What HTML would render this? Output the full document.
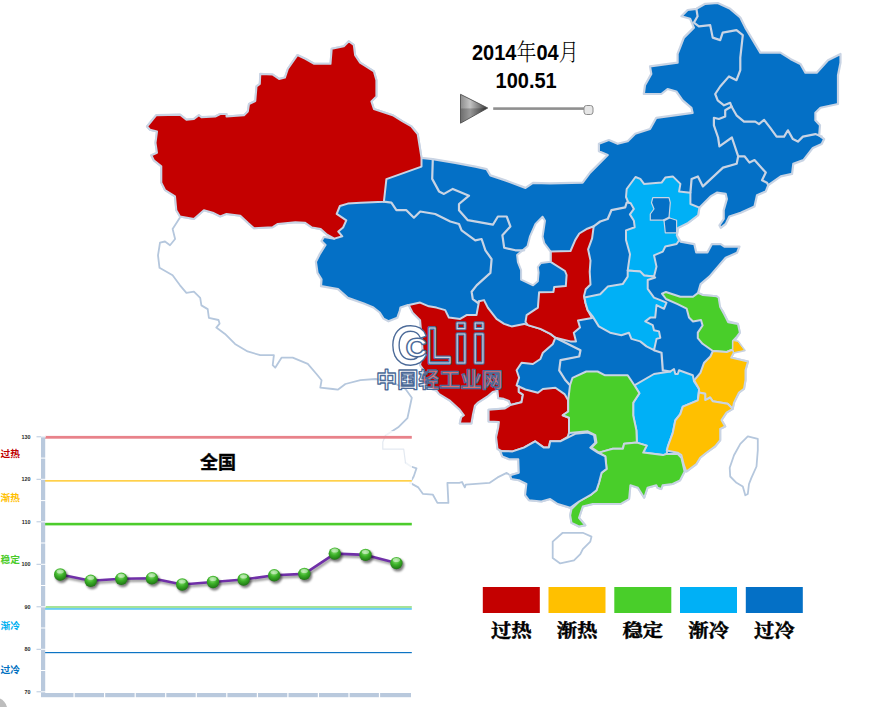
<!DOCTYPE html>
<html lang="zh"><head><meta charset="utf-8"><title>CLii 中国轻工业网 - 全国 2014年04月 100.51</title>
<style>
html,body{margin:0;padding:0;background:#fff;}
body{width:878px;height:707px;overflow:hidden;position:relative;font-family:"Liberation Sans","Noto Sans CJK SC",sans-serif;}
svg{position:absolute;left:0;top:0;display:block;}
</style></head><body>
<svg width="878" height="707" viewBox="0 0 878 707">
<defs>
<radialGradient id="ball" cx="0.45" cy="0.3" r="0.75"><stop offset="0" stop-color="#93e27e"/><stop offset="0.45" stop-color="#3db329"/><stop offset="1" stop-color="#1a6c11"/></radialGradient>
<linearGradient id="play" x1="0" y1="0" x2="1" y2="0"><stop offset="0" stop-color="#8c8c8c"/><stop offset="0.35" stop-color="#c4c4c4"/><stop offset="0.7" stop-color="#7a7a7a"/><stop offset="1" stop-color="#2c2c2c"/></linearGradient>
<filter id="blur1" x="-30%" y="-30%" width="160%" height="160%"><feGaussianBlur stdDeviation="0.9"/></filter>
</defs>
<rect width="878" height="707" fill="#fff"/>
<g id="map">
<path d="M180.0,217.5 L172.6,228.9 L175.1,239.0 L170.0,245.2 L165.0,241.5 L160.0,242.7 L158.0,255.3 L159.5,267.8 L172.6,275.3 L180.0,285.3 L186.4,292.9 L193.9,291.6 L200.2,297.9 L201.4,305.4 L207.7,309.1 L208.9,317.9 L218.5,320.0 L219.6,323.6 L216.3,327.6 L225.0,333.9 L235.0,343.9 L247.6,351.4 L260.2,355.2 L273.9,355.2 L272.7,365.2 L275.2,367.7 L281.5,357.7 L292.7,357.7 L307.8,363.9 L316.5,374.0 L321.6,380.2 L320.3,387.7 L332.8,389.0 L337.8,389.7 L345.4,384.0 L360.4,380.2 L375.4,379.0 L390.0,381.0 L405.5,389.0 L405.5,389.0 L411.8,397.8 L409.2,410.0 L407.4,418.2 L398.2,427.3 L385.5,435.5" fill="none" stroke="#b5c7dd" stroke-width="1.8" stroke-linejoin="round" stroke-linecap="round" />
<path d="M405.5,462.8 L411.0,466.5 L416.5,468.3 L413.7,476.5 L410.1,482.9 L418.3,487.4 L422.8,493.8 L432.9,494.7 L437.4,502.9 L448.4,502.9 L447.4,482.9 L459.3,482.9 L462.0,482.0 L464.8,487.4 L465.7,484.7 L489.4,482.9 L497.6,477.4 L506.7,472.9 L510.1,475.2" fill="none" stroke="#b5c7dd" stroke-width="1.8" stroke-linejoin="round" stroke-linecap="round" />
<path d="M562.7,532.8 L582.8,532.8 L591.5,536.6 L590.3,541.6 L582.8,549.1 L580.3,554.1 L574.0,560.4 L560.2,563.4 L552.7,557.9 L552.7,541.6Z" fill="#fff" stroke="#b5c7dd" stroke-width="1.8" stroke-linejoin="round"/>
<path d="M747.8,436.4 L757.8,438.9 L757.8,450.2 L756.5,466.5 L751.5,477.7 L749.0,484.0 L747.8,494.0 L745.3,495.3 L742.8,486.5 L736.5,482.8 L730.2,476.5 L729.7,467.7 L734.0,455.2 L740.3,443.9Z" fill="#fff" stroke="#b5c7dd" stroke-width="1.8" stroke-linejoin="round"/>
<path d="M147.0,126.5 L156.3,115.2 L180.1,114.7 L186.4,119.7 L193.9,119.0 L198.9,115.2 L201.4,117.2 L215.2,116.5 L220.2,114.0 L226.5,114.0 L226.5,116.5 L244.0,115.2 L247.8,111.5 L249.0,104.0 L255.3,101.0 L256.5,86.4 L259.8,83.9 L260.3,73.9 L272.8,74.6 L279.1,78.9 L284.9,77.6 L287.9,68.8 L297.4,55.1 L305.4,58.8 L314.2,63.8 L330.5,63.8 L331.7,48.8 L343.8,46.3 L348.8,41.3 L353.8,45.0 L355.1,55.1 L360.1,62.6 L373.9,71.4 L376.4,80.1 L376.4,96.4 L371.4,101.4 L373.9,109.0 L392.7,115.2 L402.7,121.5 L411.5,126.5 L417.7,134.0 L421.5,157.8 L432.8,159.1 L455.3,162.8 L475.4,166.6 L486.6,169.1 L490.4,175.4 L505.4,180.4 L525.5,187.9 L533.0,182.9 L550.0,183.4 L582.6,182.6 L590.1,172.6 L607.7,155.0 L598.9,151.3 L598.9,143.8 L608.9,140.0 L617.7,143.8 L627.7,141.3 L635.2,133.8 L650.0,129.0 L656.3,117.8 L692.6,112.8 L691.4,107.8 L682.6,100.3 L676.3,91.5 L667.6,89.0 L661.3,94.0 L643.8,94.0 L645.0,85.2 L651.3,73.9 L650.0,66.4 L677.6,62.7 L677.6,53.9 L683.9,37.6 L693.9,27.6 L690.1,18.8 L681.4,16.3 L687.6,10.0 L696.4,8.8 L705.2,3.8 L717.7,3.0 L730.2,8.8 L740.3,17.5 L745.3,27.6 L752.8,40.1 L760.3,52.6 L780.4,52.6 L790.4,58.9 L800.4,63.9 L805.4,72.7 L816.7,72.7 L828.0,60.2 L840.5,53.9 L840.5,62.7 L838.0,75.2 L838.0,104.0 L820.5,107.8 L815.4,112.8 L815.4,120.3 L820.0,125.3 L819.2,135.3 L824.2,139.1 L821.7,144.1 L812.9,147.9 L803.4,160.1 L793.3,163.9 L792.1,173.9 L780.8,176.4 L768.3,185.2 L765.8,191.4 L757.0,195.2 L754.5,206.5 L740.7,212.7 L729.4,216.5 L725.7,224.0 L720.7,227.8 L719.4,225.3 L723.7,219.0 L723.7,210.2 L726.9,198.9 L725.7,193.9 L716.9,192.7 L710.6,196.4 L699.4,207.7 L698.1,215.2 L688.1,222.8 L678.1,227.8 L676.8,235.3 L680.6,241.6 L694.3,244.1 L696.2,252.3 L707.5,252.3 L711.9,244.1 L720.7,244.1 L724.4,246.6 L739.5,246.6 L737.0,252.8 L725.7,257.8 L716.9,267.9 L709.4,276.6 L700.6,284.2 L698.1,292.9 L702.9,295.1 L716.6,296.3 L717.9,305.1 L722.9,311.4 L727.9,321.4 L737.9,323.9 L739.9,332.7 L734.2,341.4 L737.9,341.4 L744.6,350.4 L733.8,352.6 L731.2,357.6 L748.0,361.5 L745.5,370.3 L745.5,380.0 L744.0,388.8 L739.0,392.5 L734.0,402.6 L732.7,408.8 L726.5,412.6 L721.5,420.1 L725.2,426.4 L720.2,428.9 L720.2,440.2 L715.2,446.4 L706.4,452.7 L700.2,457.7 L696.4,464.0 L686.4,471.5 L684.6,471.5 L680.1,480.3 L672.6,484.0 L662.6,485.3 L661.3,489.0 L657.5,487.8 L656.3,485.3 L647.5,487.8 L644.2,497.7 L637.9,487.7 L630.4,485.2 L629.1,499.0 L620.4,504.0 L592.8,504.0 L582.8,506.5 L579.0,517.8 L585.3,525.3 L579.0,526.5 L571.5,522.8 L570.2,515.3 L571.5,509.0 L570.2,507.7 L557.7,504.0 L550.2,499.0 L541.4,501.5 L528.9,500.2 L525.1,495.2 L526.4,483.9 L518.8,480.2 L511.3,478.9 L510.1,475.2 L518.8,472.7 L518.3,459.2 L509.2,459.2 L502.3,456.4 L500.2,451.0 L497.5,448.9 L496.1,437.2 L498.2,427.6 L498.9,422.1 L488.6,421.4 L488.6,409.8 L505.0,408.4 L510.5,405.0 L509.0,401.0 L503.7,398.8 L498.2,398.1 L497.5,390.6 L492.7,391.9 L487.2,396.7 L477.6,402.9 L474.9,405.7 L472.8,415.3 L471.4,423.5 L459.8,423.5 L461.2,417.3 L463.9,415.3 L459.8,409.8 L450.2,400.9 L439.2,394.0 L436.5,390.6 L426.4,387.2 L421.4,381.5 L423.9,370.3 L420.1,365.2 L422.6,350.2 L421.4,335.2 L420.1,320.1 L412.6,312.6 L408.8,305.1 L408.0,305.0 L400.5,307.5 L399.7,311.0 L397.3,317.8 L388.5,321.3 L383.5,318.6 L379.7,312.5 L373.4,307.5 L363.8,303.5 L347.8,297.9 L338.0,289.1 L321.0,286.2 L321.5,279.3 L317.5,272.9 L315.9,261.8 L319.9,253.8 L325.5,245.0 L321.5,241.0 L323.9,237.0 L334.3,238.6 L327.1,234.7 L320.7,229.1 L312.0,227.5 L304.8,222.7 L295.4,222.2 L277.8,223.9 L272.8,227.2 L254.0,228.2 L247.8,222.7 L240.3,215.7 L226.5,213.9 L220.2,216.4 L212.7,212.7 L203.9,210.2 L193.9,218.9 L180.0,216.4 L176.3,210.2 L175.0,196.4 L165.0,190.0 L161.3,182.6 L161.3,166.3 L153.8,160.3 L151.3,155.3 L157.0,152.8 L155.5,142.8 L157.0,131.5 L150.0,129.7Z" fill="#0470C6" stroke="#c9d4e4" stroke-width="2.2" stroke-linejoin="round"/>
<path d="M147.0,126.5 L156.3,115.2 L180.1,114.7 L186.4,119.7 L193.9,119.0 L198.9,115.2 L201.4,117.2 L215.2,116.5 L220.2,114.0 L226.5,114.0 L226.5,116.5 L244.0,115.2 L247.8,111.5 L249.0,104.0 L255.3,101.0 L256.5,86.4 L259.8,83.9 L260.3,73.9 L272.8,74.6 L279.1,78.9 L284.9,77.6 L287.9,68.8 L297.4,55.1 L305.4,58.8 L314.2,63.8 L330.5,63.8 L331.7,48.8 L343.8,46.3 L348.8,41.3 L353.8,45.0 L355.1,55.1 L360.1,62.6 L373.9,71.4 L376.4,80.1 L376.4,96.4 L371.4,101.4 L373.9,109.0 L392.7,115.2 L402.7,121.5 L411.5,126.5 L417.7,134.0 L421.5,157.8 L421.5,166.6 L386.4,179.1 L383.9,201.7 L360.6,202.8 L347.8,203.6 L339.9,206.0 L336.7,213.9 L346.3,220.3 L343.1,227.5 L338.3,231.5 L342.3,236.3 L334.3,238.6 L327.1,234.7 L320.7,229.1 L312.0,227.5 L304.8,222.7 L295.4,222.2 L277.8,223.9 L272.8,227.2 L254.0,228.2 L247.8,222.7 L240.3,215.7 L226.5,213.9 L220.2,216.4 L212.7,212.7 L203.9,210.2 L193.9,218.9 L180.0,216.4 L176.3,210.2 L175.0,196.4 L165.0,190.0 L161.3,182.6 L161.3,166.3 L153.8,160.3 L151.3,155.3 L157.0,152.8 L155.5,142.8 L157.0,131.5 L150.0,129.7Z" fill="#C40000" stroke="#c9d4e4" stroke-width="2.0" stroke-linejoin="round"/>
<path d="M408.8,305.1 L420.1,302.6 L428.9,306.3 L436.4,307.6 L445.2,310.1 L448.9,317.6 L460.2,318.9 L466.5,315.1 L476.5,315.1 L479.0,301.3 L484.0,300.1 L487.8,307.6 L496.5,318.9 L504.1,323.9 L511.6,326.4 L524.1,323.9 L527.9,325.1 L540.4,328.9 L550.4,333.9 L555.4,337.7 L552.9,343.9 L542.9,352.7 L540.4,359.0 L532.9,364.0 L521.6,362.7 L516.6,370.3 L519.1,377.8 L516.6,385.3 L518.8,386.5 L518.8,391.9 L522.9,394.7 L521.5,402.2 L510.5,405.0 L509.0,401.0 L503.7,398.8 L498.2,398.1 L497.5,390.6 L492.7,391.9 L487.2,396.7 L477.6,402.9 L474.9,405.7 L472.8,415.3 L471.4,423.5 L459.8,423.5 L461.2,417.3 L463.9,415.3 L459.8,409.8 L450.2,400.9 L439.2,394.0 L436.5,390.6 L426.4,387.2 L421.4,381.5 L423.9,370.3 L420.1,365.2 L422.6,350.2 L421.4,335.2 L420.1,320.1 L412.6,312.6 L408.8,305.1Z" fill="#C40000" stroke="#c9d4e4" stroke-width="2.0" stroke-linejoin="round"/>
<path d="M593.7,226.3 L592.1,238.3 L588.1,249.4 L590.5,260.6 L589.7,271.8 L590.5,284.5 L585.7,289.3 L584.0,296.0 L585.5,303.0 L587.6,310.0 L592.0,318.0 L578.0,320.5 L580.0,327.6 L573.8,332.7 L576.0,341.5 L570.5,341.4 L555.4,337.7 L550.4,333.9 L540.4,328.9 L527.9,325.1 L525.5,322.0 L526.6,315.1 L537.9,307.6 L539.1,292.2 L553.4,292.0 L554.2,287.0 L565.8,286.1 L566.6,275.0 L565.0,271.0 L550.6,261.8 L550.6,251.6 L570.5,251.0 L575.3,239.9 L579.3,233.5 L587.3,228.7Z" fill="#C40000" stroke="#c9d4e4" stroke-width="2.0" stroke-linejoin="round"/>
<path d="M488.6,409.8 L505.0,408.4 L510.5,405.0 L521.5,402.2 L522.9,394.7 L518.8,391.9 L518.8,386.5 L525.4,389.5 L537.9,392.8 L542.9,389.0 L555.4,387.8 L564.5,394.1 L568.2,400.3 L568.2,411.5 L562.7,415.3 L569.0,417.8 L569.0,432.9 L567.7,436.8 L560.2,441.3 L550.2,441.3 L548.9,447.6 L543.9,447.6 L535.1,441.3 L523.9,447.6 L512.6,451.4 L502.6,451.6 L497.5,448.9 L496.1,437.2 L498.2,427.6 L498.9,422.1 L488.6,421.4Z" fill="#C40000" stroke="#c9d4e4" stroke-width="2.0" stroke-linejoin="round"/>
<path d="M635.5,177.0 L626.7,189.0 L626.0,197.0 L628.3,202.5 L630.7,203.3 L633.9,208.9 L629.9,214.4 L633.9,220.8 L634.7,227.2 L626.0,230.4 L626.0,240.0 L630.0,254.3 L627.7,270.4 L640.3,271.6 L644.0,275.4 L654.0,276.6 L656.5,266.6 L654.0,255.3 L662.8,251.6 L665.3,246.5 L676.6,244.0 L679.1,240.3 L676.8,235.3 L678.1,227.8 L688.1,222.8 L698.1,215.2 L699.4,207.7 L690.4,204.0 L690.4,192.7 L679.1,191.4 L680.4,183.9 L672.8,176.4 L665.3,177.6 L661.6,182.6 L644.0,183.9 L640.3,178.9Z" fill="#00B0F6" stroke="#c9d4e4" stroke-width="2.0" stroke-linejoin="round"/>
<path d="M652.8,197.7 L669.0,197.7 L670.3,202.7 L669.0,217.7 L676.6,220.2 L676.6,232.8 L665.3,232.8 L664.0,220.2 L650.3,220.2 L650.3,214.0 L654.0,209.0 L651.5,202.7Z" fill="#0470C6" stroke="#c9d4e4" stroke-width="1.2" stroke-linejoin="round"/>
<path d="M627.7,270.4 L627.7,276.6 L622.7,284.1 L607.7,286.6 L600.2,294.2 L584.5,297.5 L585.5,303.0 L587.6,310.0 L592.6,316.4 L598.8,326.4 L610.1,332.7 L621.4,335.2 L628.9,332.7 L631.4,338.9 L640.2,341.4 L646.5,346.4 L654.0,350.2 L656.5,338.9 L660.3,337.7 L659.0,331.4 L654.0,330.2 L652.7,325.1 L645.2,321.4 L650.2,317.6 L655.2,317.6 L656.5,305.1 L664.0,308.8 L666.5,302.6 L660.3,300.1 L654.0,297.6 L647.7,288.8 L647.7,280.0 L655.2,277.5 L654.0,276.6 L644.0,275.4 L640.3,271.6Z" fill="#00B0F6" stroke="#c9d4e4" stroke-width="2.0" stroke-linejoin="round"/>
<path d="M634.4,385.3 L654.0,374.0 L670.3,371.5 L674.0,369.0 L675.3,374.0 L677.8,374.0 L679.0,370.3 L692.8,375.3 L694.1,381.5 L699.1,389.0 L697.8,400.3 L682.8,406.6 L680.3,414.1 L675.3,420.4 L672.8,432.9 L668.0,446.0 L666.7,453.9 L663.0,455.1 L643.2,452.6 L646.7,445.6 L636.9,442.6 L636.4,430.4 L633.2,415.4 L633.2,402.8 L639.4,393.3Z" fill="#00B0F6" stroke="#c9d4e4" stroke-width="2.0" stroke-linejoin="round"/>
<path d="M662.0,293.6 L665.9,292.0 L680.3,296.7 L693.0,296.7 L698.1,292.9 L702.9,295.1 L716.6,296.3 L718.6,297.5 L720.2,307.1 L724.2,314.3 L728.2,322.3 L737.9,323.9 L739.9,332.7 L736.9,336.6 L732.9,341.0 L732.9,349.5 L726.7,352.0 L712.9,351.0 L702.6,343.8 L697.8,338.2 L697.8,332.6 L702.6,325.5 L701.0,319.9 L693.0,321.5 L689.0,317.5 L686.7,308.7 L677.1,303.9 L666.0,299.0Z" fill="#49CE2A" stroke="#c9d4e4" stroke-width="2.0" stroke-linejoin="round"/>
<path d="M586.3,371.5 L572.5,377.8 L570.0,385.3 L568.2,400.3 L568.2,411.5 L562.7,415.3 L569.0,417.8 L569.0,432.9 L587.8,431.3 L595.3,435.1 L596.5,442.6 L591.5,447.6 L599.0,452.6 L607.8,450.1 L612.8,448.8 L622.9,448.8 L624.1,443.8 L636.9,442.6 L636.4,430.4 L633.2,415.4 L633.2,402.8 L639.4,393.3 L634.4,385.3 L627.7,375.3 L605.1,375.3 L597.6,371.5Z" fill="#49CE2A" stroke="#c9d4e4" stroke-width="2.0" stroke-linejoin="round"/>
<path d="M606.6,468.9 L605.3,456.4 L599.0,452.6 L607.8,450.1 L612.8,448.8 L622.9,448.8 L624.1,443.8 L636.9,442.6 L646.7,445.6 L643.2,452.6 L663.0,455.1 L666.7,453.9 L677.6,453.9 L681.4,457.7 L684.6,471.5 L680.1,480.3 L672.6,484.0 L662.6,485.3 L661.3,489.0 L657.5,487.8 L656.3,485.3 L647.5,487.8 L644.2,497.7 L637.9,487.7 L630.4,485.2 L629.1,499.0 L620.4,504.0 L592.8,504.0 L582.8,506.5 L579.0,517.8 L585.3,525.3 L579.0,526.5 L571.5,522.8 L570.2,515.3 L571.5,509.0 L579.0,501.5 L590.3,495.2 L596.5,490.2 L599.0,482.7 L601.6,472.7Z" fill="#49CE2A" stroke="#c9d4e4" stroke-width="2.0" stroke-linejoin="round"/>
<path d="M500.2,451.0 L512.6,451.4 L523.9,447.6 L535.1,441.3 L543.9,447.6 L548.9,447.6 L550.2,441.3 L560.2,441.3 L567.7,437.6 L575.2,433.8 L587.8,432.6 L594.0,435.1 L595.3,442.6 L590.3,447.6 L597.8,452.6 L605.3,456.4 L606.6,468.9 L601.6,472.7 L599.0,482.7 L596.5,490.2 L590.3,495.2 L579.0,501.5 L570.2,507.7 L557.7,504.0 L550.2,499.0 L541.4,501.5 L528.9,500.2 L525.1,495.2 L526.4,483.9 L518.8,480.2 L511.3,478.9 L510.1,475.2 L518.8,472.7 L518.3,459.2 L509.2,459.2 L502.3,456.4 L500.2,451.0Z" fill="#0470C6" stroke="#c9d4e4" stroke-width="2.0" stroke-linejoin="round"/>
<path d="M712.9,351.0 L726.7,352.0 L732.9,349.5 L733.8,352.6 L731.2,357.6 L748.0,361.5 L745.5,370.3 L745.5,380.0 L744.0,388.8 L739.0,392.5 L734.0,402.6 L732.7,408.8 L727.7,403.8 L720.2,402.6 L712.7,401.3 L710.2,397.5 L705.2,400.1 L705.2,393.8 L698.9,392.5 L699.1,389.0 L694.1,380.3 L700.4,372.8 L704.1,362.7 L710.4,356.5Z" fill="#FFC000" stroke="#c9d4e4" stroke-width="2.0" stroke-linejoin="round"/>
<path d="M733.0,340.6 L737.9,341.4 L744.6,350.4 L733.8,352.6 L732.9,349.5Z" fill="#FFC000" stroke="#c9d4e4" stroke-width="1.0" stroke-linejoin="round"/>
<path d="M698.9,392.5 L705.2,393.8 L705.2,400.1 L710.2,397.5 L712.7,401.3 L720.2,402.6 L727.7,403.8 L732.7,408.8 L726.5,412.6 L721.5,420.1 L725.2,426.4 L720.2,428.9 L720.2,440.2 L715.2,446.4 L706.4,452.7 L700.2,457.7 L696.4,464.0 L686.4,471.5 L683.9,465.2 L681.4,455.2 L677.6,452.7 L666.7,450.5 L668.0,446.0 L672.8,432.9 L675.3,420.4 L680.3,414.1 L682.8,406.6 L697.8,400.3Z" fill="#FFC000" stroke="#c9d4e4" stroke-width="2.0" stroke-linejoin="round"/>
<path d="M542.6,216.7 L535.5,223.9 L529.9,236.7 L527.5,246.3 L517.1,255.0 L517.9,262.2 L521.1,270.2 L521.1,279.7 L533.1,285.3 L537.8,281.3 L538.6,272.6 L537.8,267.0 L541.0,263.0 L550.6,261.8 L550.6,251.6 L544.2,243.1 L542.6,236.7 L545.0,220.7Z" fill="#fff" stroke="#c9d4e4" stroke-width="2.0" stroke-linejoin="round"/>
<path d="M432.8,159.1 L432.2,178.9 L439.0,191.4 L444.0,193.9 L452.8,188.9 L469.0,195.7 L459.0,204.0 L459.0,210.2 L467.8,220.2 L492.9,224.7 L497.9,216.5 L506.7,216.5 L510.4,226.5 L502.4,235.3 L504.2,247.8 L515.4,250.3 L524.2,250.3" fill="none" stroke="#c9d4e4" stroke-width="2.2" stroke-linejoin="round" stroke-linecap="round" />
<path d="M383.9,201.7 L391.4,202.7 L396.4,210.2 L406.4,210.2 L413.9,217.7 L420.2,211.5 L435.2,214.0 L450.3,221.5 L459.0,224.0 L461.6,230.3 L475.3,240.3 L481.6,239.0 L485.4,250.3 L491.6,259.1 L490.4,272.9 L476.6,285.4 L471.6,291.7 L472.8,299.2 L477.8,302.9 L479.0,301.3" fill="none" stroke="#c9d4e4" stroke-width="2.2" stroke-linejoin="round" stroke-linecap="round" />
<path d="M593.7,226.3 L600.2,221.5 L607.7,219.0 L611.4,210.2 L625.2,207.3 L626.7,202.5 L628.3,202.5" fill="none" stroke="#c9d4e4" stroke-width="2.2" stroke-linejoin="round" stroke-linecap="round" />
<path d="M690.4,192.7 L691.6,178.9 L697.9,176.4 L702.9,186.4 L723.0,167.6 L736.7,163.8 L738.2,156.3" fill="none" stroke="#c9d4e4" stroke-width="2.2" stroke-linejoin="round" stroke-linecap="round" />
<path d="M738.2,156.3 L731.9,137.5 L719.4,146.3 L718.1,137.5 L713.9,125.3 L713.9,117.8 L718.9,119.0 L725.2,116.5 L725.2,110.3 L731.5,106.5" fill="none" stroke="#c9d4e4" stroke-width="2.2" stroke-linejoin="round" stroke-linecap="round" />
<path d="M738.2,156.3 L744.5,156.3 L749.5,162.6 L754.5,160.1 L765.8,172.6 L762.0,180.2 L767.0,182.7 L768.3,185.2" fill="none" stroke="#c9d4e4" stroke-width="2.2" stroke-linejoin="round" stroke-linecap="round" />
<path d="M731.5,106.5 L736.5,115.3 L744.0,121.6 L755.3,121.6 L759.0,124.1 L764.1,119.8 L770.3,127.8 L776.6,136.6 L784.1,136.6 L787.9,130.3 L792.9,139.1 L797.9,141.6 L802.9,136.6 L815.4,134.1 L821.7,136.6" fill="none" stroke="#c9d4e4" stroke-width="2.2" stroke-linejoin="round" stroke-linecap="round" />
<path d="M696.4,8.8 L697.6,16.3 L693.9,22.6 L698.9,26.3 L710.2,25.1 L712.7,37.6 L720.2,40.1 L722.7,32.6 L736.5,30.1 L742.8,35.1 L740.3,57.6 L740.3,70.2 L736.5,80.2 L729.0,76.4 L720.2,86.5 L715.2,94.0 L717.7,100.3 L724.0,105.3 L730.2,102.8 L731.5,106.5" fill="none" stroke="#c9d4e4" stroke-width="2.2" stroke-linejoin="round" stroke-linecap="round" />
<path d="M555.4,337.7 L565.5,342.7 L580.5,350.2 L579.2,356.5 L560.5,360.2 L559.2,370.3 L565.5,380.3 L570.0,385.3" fill="none" stroke="#c9d4e4" stroke-width="2.2" stroke-linejoin="round" stroke-linecap="round" />
<path d="M654.0,350.2 L661.5,352.7 L662.8,370.3 L670.3,371.5" fill="none" stroke="#c9d4e4" stroke-width="2.2" stroke-linejoin="round" stroke-linecap="round" />
<path d="M664.0,220.2 L669.0,217.7" fill="none" stroke="#c9d4e4" stroke-width="2.2" stroke-linejoin="round" stroke-linecap="round" />
</g>
<g id="watermark" stroke-linejoin="round"><title>CLii 中国轻工业网</title>
<g font-family="Liberation Sans,sans-serif">
<g transform="translate(390.96,363.8) scale(0.935,1)">
<text x="0" y="0" font-size="54.2" fill="#4b6a98" stroke="#4b6a98" stroke-width="3.0">C</text>
<text x="0" y="0" font-size="54.2" fill="#ffffff" aria-hidden="true">C</text>
</g>
<g transform="translate(406.2,356.2) scale(1.14,1)">
<text x="0" y="0" font-size="24.3" fill="#4b6a98" stroke="#4b6a98" stroke-width="2.9" aria-hidden="true">C</text>
<text x="0" y="0" font-size="24.3" fill="#ffffff" aria-hidden="true">C</text>
</g>
<g font-weight="bold" fill="none">
<g transform="translate(426.56,362.7) scale(0.8,1)">
<text x="0" y="0" font-size="50.5" stroke="#4b6a98" stroke-width="3.8">L</text>
<text x="0" y="0" font-size="50.5" stroke="#ffffff" stroke-opacity="0.7" stroke-width="1.2" aria-hidden="true">L</text>
</g>
<text x="453.26 471.16" y="362.8" font-size="56.4" stroke="#4b6a98" stroke-width="3.4">ii</text>
<text x="453.26 471.16" y="362.8" font-size="56.4" stroke="#ffffff" stroke-opacity="0.7" stroke-width="1.1" aria-hidden="true">ii</text>
</g>
</g>
<text x="376" y="387.3" font-size="21" font-weight="bold" textLength="127" lengthAdjust="spacingAndGlyphs" fill="#ffffff" fill-opacity="0.45" stroke="#4b6a98" stroke-width="1.3" font-family="Liberation Sans,'Noto Sans CJK SC',sans-serif">中国轻工业网</text>
</g>
<g id="chart">
<rect x="0" y="431" width="412" height="276" fill="#fff" fill-opacity="0.8"/>
<path d="M385.5,435.5 L382.8,441.9 L382.8,449.2 L403.7,449.2 L405.5,462.8" fill="none" stroke="#e3e9f1" stroke-width="1.2" stroke-linejoin="round" stroke-linecap="round" />
<rect x="45" y="435.9" width="366.8" height="2.8" fill="#e8828a"/>
<rect x="45" y="480.0" width="366.8" height="1.7" fill="#ffd04a"/>
<rect x="45" y="522.8" width="366.8" height="2.6" fill="#4ccc2c"/>
<rect x="45" y="606.0" width="366.8" height="2.2" fill="#a6e298"/>
<rect x="45" y="608.2" width="366.8" height="1.5" fill="#4cc4f4"/>
<rect x="45" y="652.0" width="366.8" height="1.2" fill="#0c74c4"/>
<rect x="41" y="436" width="4.2" height="261" fill="#b9c9dd"/>
<rect x="41" y="693" width="370" height="4.2" fill="#b9c9dd"/>
<rect x="40" y="436.3" width="6" height="1" fill="#fff"/>
<rect x="36.5" y="436.3" width="4.5" height="1" fill="#b9c9dd"/>
<rect x="40" y="457.6" width="6" height="1" fill="#fff"/>
<rect x="40" y="478.8" width="6" height="1" fill="#fff"/>
<rect x="36.5" y="478.8" width="4.5" height="1" fill="#b9c9dd"/>
<rect x="40" y="500.1" width="6" height="1" fill="#fff"/>
<rect x="40" y="521.3" width="6" height="1" fill="#fff"/>
<rect x="36.5" y="521.3" width="4.5" height="1" fill="#b9c9dd"/>
<rect x="40" y="542.5" width="6" height="1" fill="#fff"/>
<rect x="40" y="563.8" width="6" height="1" fill="#fff"/>
<rect x="36.5" y="563.8" width="4.5" height="1" fill="#b9c9dd"/>
<rect x="40" y="585.0" width="6" height="1" fill="#fff"/>
<rect x="40" y="606.3" width="6" height="1" fill="#fff"/>
<rect x="36.5" y="606.3" width="4.5" height="1" fill="#b9c9dd"/>
<rect x="40" y="627.5" width="6" height="1" fill="#fff"/>
<rect x="40" y="648.8" width="6" height="1" fill="#fff"/>
<rect x="36.5" y="648.8" width="4.5" height="1" fill="#b9c9dd"/>
<rect x="40" y="670.0" width="6" height="1" fill="#fff"/>
<rect x="40" y="691.3" width="6" height="1" fill="#fff"/>
<rect x="36.5" y="691.3" width="4.5" height="1" fill="#b9c9dd"/>
<rect x="73.5" y="692" width="1.2" height="6" fill="#fff"/>
<rect x="104.0" y="692" width="1.2" height="6" fill="#fff"/>
<rect x="134.6" y="692" width="1.2" height="6" fill="#fff"/>
<rect x="165.1" y="692" width="1.2" height="6" fill="#fff"/>
<rect x="195.7" y="692" width="1.2" height="6" fill="#fff"/>
<rect x="226.2" y="692" width="1.2" height="6" fill="#fff"/>
<rect x="256.8" y="692" width="1.2" height="6" fill="#fff"/>
<rect x="287.3" y="692" width="1.2" height="6" fill="#fff"/>
<rect x="317.8" y="692" width="1.2" height="6" fill="#fff"/>
<rect x="348.4" y="692" width="1.2" height="6" fill="#fff"/>
<rect x="378.9" y="692" width="1.2" height="6" fill="#fff"/>
<text x="30.5" y="438.8" font-size="5.4" font-weight="bold" text-anchor="end" fill="#2a2a2a" font-family="Liberation Sans,sans-serif">130</text>
<text x="30.5" y="481.3" font-size="5.4" font-weight="bold" text-anchor="end" fill="#2a2a2a" font-family="Liberation Sans,sans-serif">120</text>
<text x="30.5" y="523.8" font-size="5.4" font-weight="bold" text-anchor="end" fill="#2a2a2a" font-family="Liberation Sans,sans-serif">110</text>
<text x="30.5" y="566.3" font-size="5.4" font-weight="bold" text-anchor="end" fill="#2a2a2a" font-family="Liberation Sans,sans-serif">100</text>
<text x="30.5" y="608.8" font-size="5.4" font-weight="bold" text-anchor="end" fill="#2a2a2a" font-family="Liberation Sans,sans-serif">90</text>
<text x="30.5" y="651.3" font-size="5.4" font-weight="bold" text-anchor="end" fill="#2a2a2a" font-family="Liberation Sans,sans-serif">80</text>
<text x="30.5" y="693.8" font-size="5.4" font-weight="bold" text-anchor="end" fill="#2a2a2a" font-family="Liberation Sans,sans-serif">70</text>
<text x="0.5" y="457" font-size="9.5" textLength="19.5" lengthAdjust="spacingAndGlyphs" fill="#C00000" font-family="Liberation Sans,'Noto Sans CJK SC',sans-serif" font-weight="bold">过热</text>
<text x="0.5" y="501" font-size="9.5" textLength="19.5" lengthAdjust="spacingAndGlyphs" fill="#FFC000" font-family="Liberation Sans,'Noto Sans CJK SC',sans-serif" font-weight="bold">渐热</text>
<text x="0.5" y="563" font-size="9.5" textLength="19.5" lengthAdjust="spacingAndGlyphs" fill="#4ACB2A" font-family="Liberation Sans,'Noto Sans CJK SC',sans-serif" font-weight="bold">稳定</text>
<text x="0.5" y="628.6" font-size="9.5" textLength="19.5" lengthAdjust="spacingAndGlyphs" fill="#00B0F0" font-family="Liberation Sans,'Noto Sans CJK SC',sans-serif" font-weight="bold">渐冷</text>
<text x="0.5" y="672.8" font-size="9.5" textLength="19.5" lengthAdjust="spacingAndGlyphs" fill="#0070C0" font-family="Liberation Sans,'Noto Sans CJK SC',sans-serif" font-weight="bold">过冷</text>
<text x="218.1" y="468.5" font-size="18" text-anchor="middle" fill="#000" stroke="#000" stroke-width="0.35" font-family="Liberation Sans,'Noto Sans CJK SC',sans-serif" font-weight="bold">全国</text>
<path d="M60.2,574.5 L90.7,580.8 L121.3,578.8 L151.9,578.3 L182.2,584.5 L213.0,582.0 L243.6,579.5 L274.2,575.3 L304.3,573.9 L334.8,553.6 L365.5,554.9 L396.4,563.1" fill="none" stroke="#000" stroke-opacity="0.38" stroke-width="3" transform="translate(1.4,2.0)" filter="url(#blur1)"/>
<path d="M60.2,574.5 L90.7,580.8 L121.3,578.8 L151.9,578.3 L182.2,584.5 L213.0,582.0 L243.6,579.5 L274.2,575.3 L304.3,573.9 L334.8,553.6 L365.5,554.9 L396.4,563.1" fill="none" stroke="#7030A8" stroke-width="2.6" stroke-linejoin="round"/>
<circle cx="61.7" cy="576.5" r="6.4" fill="#000" fill-opacity="0.5" filter="url(#blur1)"/>
<circle cx="60.2" cy="574.5" r="6.2" fill="url(#ball)"/>
<ellipse cx="60.2" cy="571.5" rx="3.6" ry="2" fill="#fff" fill-opacity="0.45"/>
<circle cx="92.2" cy="582.8" r="6.4" fill="#000" fill-opacity="0.5" filter="url(#blur1)"/>
<circle cx="90.7" cy="580.8" r="6.2" fill="url(#ball)"/>
<ellipse cx="90.7" cy="577.8" rx="3.6" ry="2" fill="#fff" fill-opacity="0.45"/>
<circle cx="122.8" cy="580.8" r="6.4" fill="#000" fill-opacity="0.5" filter="url(#blur1)"/>
<circle cx="121.3" cy="578.8" r="6.2" fill="url(#ball)"/>
<ellipse cx="121.3" cy="575.8" rx="3.6" ry="2" fill="#fff" fill-opacity="0.45"/>
<circle cx="153.4" cy="580.3" r="6.4" fill="#000" fill-opacity="0.5" filter="url(#blur1)"/>
<circle cx="151.9" cy="578.3" r="6.2" fill="url(#ball)"/>
<ellipse cx="151.9" cy="575.3" rx="3.6" ry="2" fill="#fff" fill-opacity="0.45"/>
<circle cx="183.7" cy="586.5" r="6.4" fill="#000" fill-opacity="0.5" filter="url(#blur1)"/>
<circle cx="182.2" cy="584.5" r="6.2" fill="url(#ball)"/>
<ellipse cx="182.2" cy="581.5" rx="3.6" ry="2" fill="#fff" fill-opacity="0.45"/>
<circle cx="214.5" cy="584.0" r="6.4" fill="#000" fill-opacity="0.5" filter="url(#blur1)"/>
<circle cx="213.0" cy="582.0" r="6.2" fill="url(#ball)"/>
<ellipse cx="213.0" cy="579.0" rx="3.6" ry="2" fill="#fff" fill-opacity="0.45"/>
<circle cx="245.1" cy="581.5" r="6.4" fill="#000" fill-opacity="0.5" filter="url(#blur1)"/>
<circle cx="243.6" cy="579.5" r="6.2" fill="url(#ball)"/>
<ellipse cx="243.6" cy="576.5" rx="3.6" ry="2" fill="#fff" fill-opacity="0.45"/>
<circle cx="275.7" cy="577.3" r="6.4" fill="#000" fill-opacity="0.5" filter="url(#blur1)"/>
<circle cx="274.2" cy="575.3" r="6.2" fill="url(#ball)"/>
<ellipse cx="274.2" cy="572.3" rx="3.6" ry="2" fill="#fff" fill-opacity="0.45"/>
<circle cx="305.8" cy="575.9" r="6.4" fill="#000" fill-opacity="0.5" filter="url(#blur1)"/>
<circle cx="304.3" cy="573.9" r="6.2" fill="url(#ball)"/>
<ellipse cx="304.3" cy="570.9" rx="3.6" ry="2" fill="#fff" fill-opacity="0.45"/>
<circle cx="336.3" cy="555.6" r="6.4" fill="#000" fill-opacity="0.5" filter="url(#blur1)"/>
<circle cx="334.8" cy="553.6" r="6.2" fill="url(#ball)"/>
<ellipse cx="334.8" cy="550.6" rx="3.6" ry="2" fill="#fff" fill-opacity="0.45"/>
<circle cx="367.0" cy="556.9" r="6.4" fill="#000" fill-opacity="0.5" filter="url(#blur1)"/>
<circle cx="365.5" cy="554.9" r="6.2" fill="url(#ball)"/>
<ellipse cx="365.5" cy="551.9" rx="3.6" ry="2" fill="#fff" fill-opacity="0.45"/>
<circle cx="397.9" cy="565.1" r="6.4" fill="#000" fill-opacity="0.5" filter="url(#blur1)"/>
<circle cx="396.4" cy="563.1" r="6.2" fill="url(#ball)"/>
<ellipse cx="396.4" cy="560.1" rx="3.6" ry="2" fill="#fff" fill-opacity="0.45"/>
<path d="M0,698.5 Q5,700.5 7,707 L0,707Z" fill="#bdbdbd"/>
</g>
<g id="title">
<g transform="translate(525.3,60.3) scale(1,1.13)"><text x="0" y="0" font-size="20" text-anchor="middle" fill="#000" font-family="Liberation Sans,'Noto Serif CJK SC',sans-serif"><tspan font-weight="bold">2014</tspan><tspan font-family="'Noto Serif CJK SC',serif" font-weight="300">年</tspan><tspan font-weight="bold">04</tspan><tspan font-family="'Noto Serif CJK SC',serif" font-weight="300">月</tspan></text></g>
<g transform="translate(526.1,87.6) scale(1,1.1)"><text x="0" y="0" font-size="20" text-anchor="middle" font-weight="bold" fill="#000" font-family="Liberation Sans,sans-serif">100.51</text></g>
<path d="M460.5,94.3 L487.7,108 L460.5,123.2Z" fill="url(#play)" stroke="#4e4e4e" stroke-width="0.9" stroke-linejoin="round"/>
<path d="M460.9,108.6 L486.5,108.2 L460.9,122.4Z" fill="#000" fill-opacity="0.22"/>
<rect x="493.2" y="107.3" width="91" height="2.6" fill="#8f8f8f"/>
<rect x="584" y="105.5" width="9" height="9" rx="2.5" fill="#e6e6e6" stroke="#8c8c8c" stroke-width="1"/>
</g>
<g id="legend">
<rect x="482.8" y="587" width="57" height="26" fill="#C40000"/>
<g transform="translate(511.3,636.6) scale(1.13,1)"><text x="0" y="0" font-size="18" text-anchor="middle" fill="#000" stroke="#000" stroke-width="0.45" font-weight="bold" font-family="Liberation Serif,'Noto Serif CJK SC',serif">过热</text></g>
<rect x="548.5" y="587" width="57" height="26" fill="#FFC000"/>
<g transform="translate(577.0,636.6) scale(1.13,1)"><text x="0" y="0" font-size="18" text-anchor="middle" fill="#000" stroke="#000" stroke-width="0.45" font-weight="bold" font-family="Liberation Serif,'Noto Serif CJK SC',serif">渐热</text></g>
<rect x="614.3" y="587" width="57" height="26" fill="#49CE2A"/>
<g transform="translate(642.8,636.6) scale(1.13,1)"><text x="0" y="0" font-size="18" text-anchor="middle" fill="#000" stroke="#000" stroke-width="0.45" font-weight="bold" font-family="Liberation Serif,'Noto Serif CJK SC',serif">稳定</text></g>
<rect x="680.0" y="587" width="57" height="26" fill="#00B0F6"/>
<g transform="translate(708.5,636.6) scale(1.13,1)"><text x="0" y="0" font-size="18" text-anchor="middle" fill="#000" stroke="#000" stroke-width="0.45" font-weight="bold" font-family="Liberation Serif,'Noto Serif CJK SC',serif">渐冷</text></g>
<rect x="745.8" y="587" width="57" height="26" fill="#0470C6"/>
<g transform="translate(774.3,636.6) scale(1.13,1)"><text x="0" y="0" font-size="18" text-anchor="middle" fill="#000" stroke="#000" stroke-width="0.45" font-weight="bold" font-family="Liberation Serif,'Noto Serif CJK SC',serif">过冷</text></g>
</g>
</svg>
</body></html>
